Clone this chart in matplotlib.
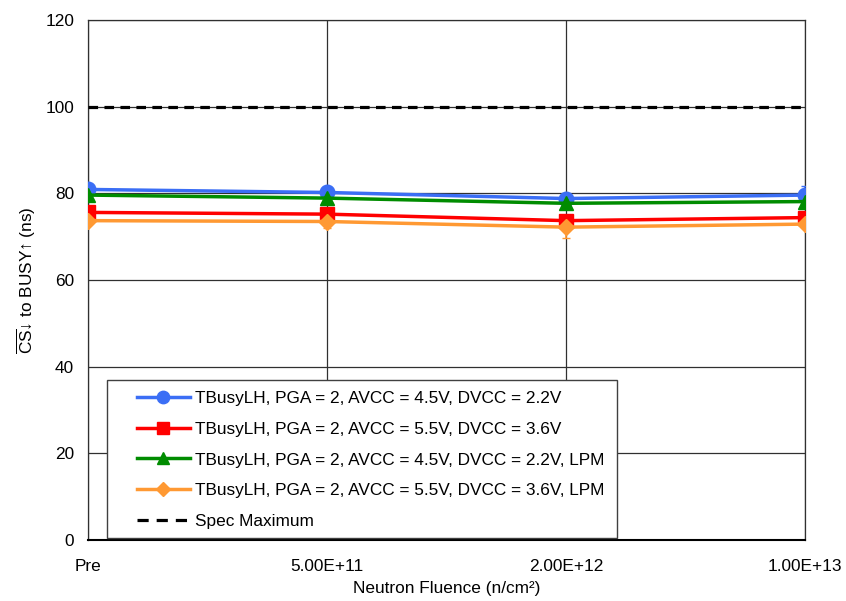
import matplotlib
matplotlib.use("Agg")
import matplotlib.pyplot as plt
from matplotlib.lines import Line2D
from matplotlib.patches import Rectangle
import numpy as np

plt.rcParams['font.family'] = ['Liberation Sans', 'DejaVu Sans']
plt.rcParams['mathtext.fontset'] = 'custom'
plt.rcParams['mathtext.rm'] = 'Liberation Sans'

categories = ["Pre", "5.00E+11", "2.00E+12", "1.00E+13"]

busy_45_22 = [80.9, 80.2, 78.8, 79.6]
busy_55_36 = [75.6, 75.2, 73.7, 74.4]
busy_45_22_lpm = [79.6, 78.9, 77.7, 78.1]
busy_55_36_lpm = [73.7, 73.5, 72.2, 72.9]

err_45_22 = [0.3, 0.3, 0.3, 2.1]
err_55_36 = [0.3, 0.3, 0.3, 0.3]
err_45_22_lpm = [0.3, 0.3, 0.3, 0.3]
err_55_36_lpm = [0.3, 1.4, 2.5, 0.3]

spec_max = 100
labels = [
    "TBusyLH, PGA = 2, AVCC = 4.5V, DVCC = 2.2V",
    "TBusyLH, PGA = 2, AVCC = 5.5V, DVCC = 3.6V",
    "TBusyLH, PGA = 2, AVCC = 4.5V, DVCC = 2.2V, LPM",
    "TBusyLH, PGA = 2, AVCC = 5.5V, DVCC = 3.6V, LPM",
]
spec_label = "Spec Maximum"

fig = plt.figure(figsize=(8.46, 6.01), dpi=100)
ax = fig.add_axes([0.104, 0.1015, 0.8475, 0.8652])

x = np.arange(len(categories))
series = [
    (busy_45_22, err_45_22, "#3b6ef5", "o", 10.5),
    (busy_55_36, err_55_36, "#ff0000", "s", 10),
    (busy_45_22_lpm, err_45_22_lpm, "#008c00", "^", 10.5),
    (busy_55_36_lpm, err_55_36_lpm, "#ff9933", "D", 8),
]
handles = []
for (vals, errs, col, mk, ms), lab in zip(series, labels):
    ax.errorbar(x, vals, yerr=errs, color=col, marker=mk, markersize=ms,
                linewidth=2.5, elinewidth=1.2, capsize=3, zorder=3)
    handles.append(Line2D([], [], color=col, marker=mk, markersize=ms * 0.85,
                          linewidth=2.5, label=lab))

ax.plot([x[0], x[-1]], [spec_max, spec_max], color="black", linestyle=(0, (3, 2)),
        linewidth=2.3, zorder=3)
handles.append(Line2D([], [], color="black", linestyle=(0, (3.5, 2.5)),
                      linewidth=2.3, label=spec_label))

ax.set_xlim(0, 3)
ax.set_ylim(0, 120)
ax.set_yticks(np.arange(0, 121, 20))
ax.set_xticks(x)
ax.set_xticklabels(categories)
ax.grid(True, color="#303030", linewidth=0.9)
ax.set_axisbelow(True)
for s in ax.spines.values():
    s.set_color("#303030")
    s.set_linewidth(0.9)
ax.spines['bottom'].set_color("black")
ax.spines['bottom'].set_linewidth(1.5)
ax.tick_params(axis="y", length=0, labelsize=12.4, pad=10)
ax.tick_params(axis="x", length=0, labelsize=12.4, pad=14)

ax.set_xlabel("Neutron Fluence (n/cm²)", fontsize=12.4, labelpad=5)
ax.set_ylabel(r"$\overline{\mathrm{CS}}$↓ to BUSY↑ (ns)", fontsize=12.4, labelpad=5)

# legend box drawn separately so the entries sit inset from its edge
box_x0, box_y0 = 0.0265, 0.004
box_x1, box_y1 = 0.738, 0.3077
ax.add_patch(Rectangle((box_x0, box_y0), box_x1 - box_x0, box_y1 - box_y0,
                       transform=ax.transAxes, facecolor="white",
                       edgecolor="#404040", linewidth=1.0, zorder=4))
leg = ax.legend(handles=handles, loc="center left",
                bbox_to_anchor=(0.068, (box_y0 + box_y1) / 2 - 0.002), fontsize=12.4,
                frameon=False, handlelength=3.1, handletextpad=0.3,
                labelspacing=0.92, borderpad=0, borderaxespad=0)
leg.set_zorder(5)

fig.savefig("out.png", dpi=100)
